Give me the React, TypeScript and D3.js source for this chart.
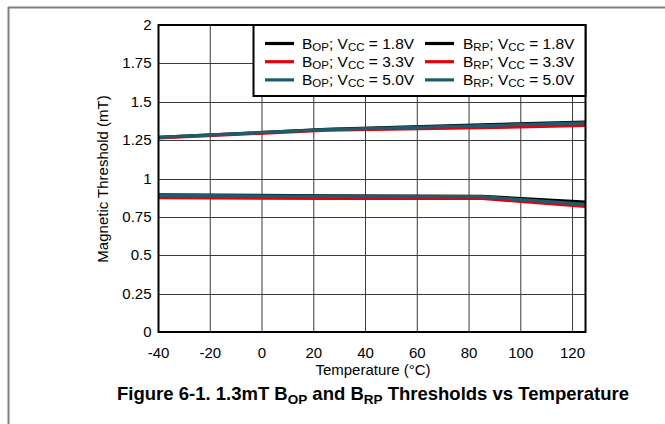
import React from "react";
import * as d3 from "d3";

const temps = [-40, 25, 85, 125];
const bop18 = [1.268, 1.32, 1.35, 1.368];
const bop33 = [1.264, 1.315, 1.331, 1.346];
const bop50 = [1.268, 1.319, 1.345, 1.362];
const brp18 = [0.893, 0.887, 0.884, 0.846];
const brp33 = [0.875, 0.871, 0.87, 0.818];
const brp50 = [0.89, 0.884, 0.882, 0.831];

const xTicks = [-40, -20, 0, 20, 40, 60, 80, 100, 120];
const yTicks = [0, 0.25, 0.5, 0.75, 1, 1.25, 1.5, 1.75, 2];
const yTickLabels = ["0", "0.25", "0.5", "0.75", "1", "1.25", "1.5", "1.75", "2"];

const colors = { v18: "#000000", v33: "#e3000f", v50: "#1e5c6c" };

const seriesList = [
  { name: "BOP18", values: bop18, color: colors.v18 },
  { name: "BRP18", values: brp18, color: colors.v18 },
  { name: "BOP33", values: bop33, color: colors.v33 },
  { name: "BRP33", values: brp33, color: colors.v33 },
  { name: "BOP50", values: bop50, color: colors.v50 },
  { name: "BRP50", values: brp50, color: colors.v50 },
];

const legendItems = [
  { b: "OP", v: "1.8V", color: colors.v18, col: 0, row: 0 },
  { b: "OP", v: "3.3V", color: colors.v33, col: 0, row: 1 },
  { b: "OP", v: "5.0V", color: colors.v50, col: 0, row: 2 },
  { b: "RP", v: "1.8V", color: colors.v18, col: 1, row: 0 },
  { b: "RP", v: "3.3V", color: colors.v33, col: 1, row: 1 },
  { b: "RP", v: "5.0V", color: colors.v50, col: 1, row: 2 },
];

const font = "'Liberation Sans', Arial, Helvetica, sans-serif";

export default function App() {
  const W = 665, H = 424;
  const left = 158.5, right = 585.5, top = 25, bottom = 332;
  const x = d3.scaleLinear().domain([-40, 125]).range([left, right]);
  const y = d3.scaleLinear().domain([0, 2]).range([bottom, top]);
  const line = d3
    .line<number>()
    .x((_, i) => x(temps[i]))
    .y((d) => y(d));

  return (
    <svg
      width={W}
      height={H}
      style={{ position: "absolute", left: 0, top: 0, background: "#fff" }}
      fontFamily={font}
    >
      <rect x={0} y={0} width={W} height={H} fill="#fff" />
      {/* outer frame */}
      <line x1={8} y1={7.5} x2={W} y2={7.5} stroke="#808080" strokeWidth={2} />
      <line x1={8.5} y1={7} x2={8.5} y2={H} stroke="#808080" strokeWidth={2} />

      {/* grid */}
      {yTicks.map((t) => (
        <line key={"gy" + t} x1={left} x2={right} y1={Math.round(y(t)) + 0.5} y2={Math.round(y(t)) + 0.5} stroke="#3a3a3a" strokeWidth={1} />
      ))}
      {xTicks.map((t) => (
        <line key={"gx" + t} x1={x(t)} x2={x(t)} y1={top} y2={bottom} stroke="#3a3a3a" strokeWidth={1} />
      ))}

      {/* series */}
      {seriesList.map((s) => (
        <path key={s.name} d={line(s.values) || ""} fill="none" stroke={s.color} strokeWidth={3.2} strokeLinejoin="round" />
      ))}

      {/* plot border */}
      <rect x={left} y={top} width={right - left} height={bottom - top} fill="none" stroke="#000" strokeWidth={2} />

      {/* legend */}
      <rect x={253.5} y={25} width={332} height={71} fill="#fff" stroke="#000" strokeWidth={2} />
      {legendItems.map((it, i) => {
        const sx = it.col === 0 ? 265 : 425;
        const tx = it.col === 0 ? 302 : 463;
        const cy = 43.5 + it.row * 18.2;
        return (
          <g key={"lg" + i}>
            <line x1={sx} x2={sx + 29} y1={cy} y2={cy} stroke={it.color} strokeWidth={3.2} />
            <text x={tx} y={cy + 5.5} fontSize={15.5} fill="#000">
              B
              <tspan fontSize={11.5} dy={2}>{it.b}</tspan>
              <tspan dy={-2}>; V</tspan>
              <tspan fontSize={11.5} dy={2}>CC</tspan>
              <tspan dy={-2}>{" = " + it.v}</tspan>
            </text>
          </g>
        );
      })}

      {/* y tick labels */}
      {yTicks.map((t, i) => (
        <text key={"yl" + t} x={151.5} y={y(t) + 5} fontSize={15} textAnchor="end" fill="#000">
          {yTickLabels[i]}
        </text>
      ))}
      {/* x tick labels */}
      {xTicks.map((t) => (
        <text key={"xl" + t} x={x(t)} y={357.5} fontSize={15} textAnchor="middle" fill="#000">
          {t}
        </text>
      ))}

      <text x={373} y={375} fontSize={15} textAnchor="middle" fill="#000">
        Temperature (°C)
      </text>
      <text
        transform={`translate(108,179) rotate(-90)`}
        fontSize={15}
        textAnchor="middle"
        fill="#000"
      >
        Magnetic Threshold (mT)
      </text>

      <text x={373} y={400} fontSize={18.5} fontWeight="bold" textAnchor="middle" fill="#000">
        Figure 6-1. 1.3mT B
        <tspan fontSize={13.5} dy={3.5}>OP</tspan>
        <tspan dy={-3.5}> and B</tspan>
        <tspan fontSize={13.5} dy={3.5}>RP</tspan>
        <tspan dy={-3.5}> Thresholds vs Temperature</tspan>
      </text>
    </svg>
  );
}
